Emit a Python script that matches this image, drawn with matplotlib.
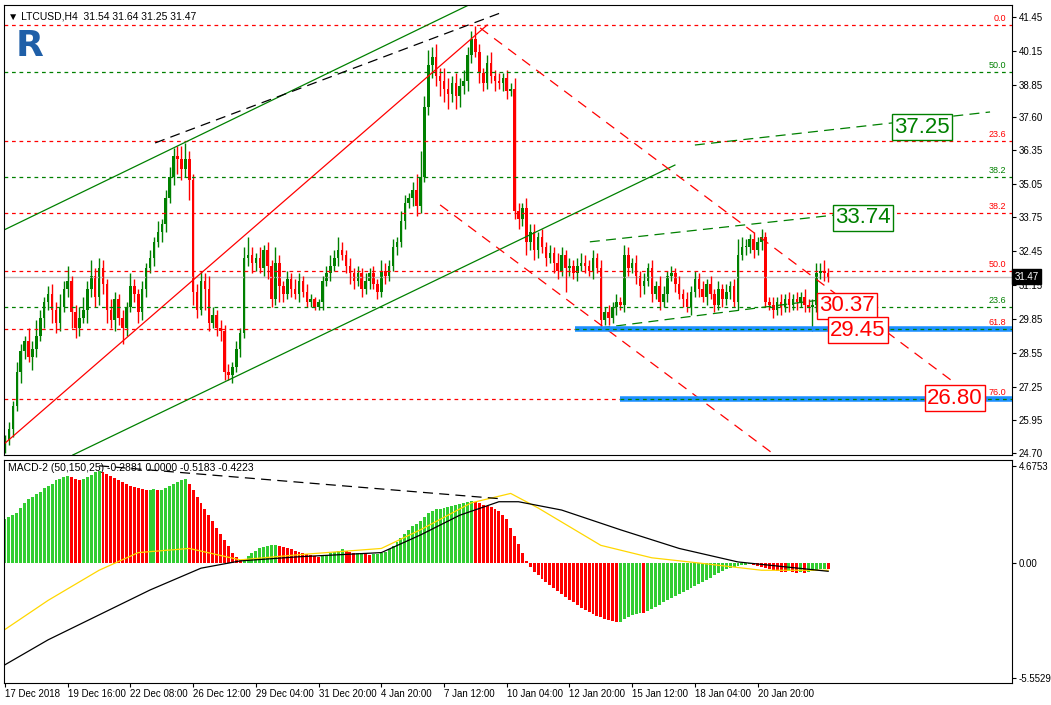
import numpy as np
import matplotlib.pyplot as plt

plt.rcParams['font.family'] = ['Liberation Sans Narrow', 'Liberation Sans', 'DejaVu Sans']

# --- price data (H4 bars) ---
closes = [25.2,25.6,26.5,27.8,28.6,29.0, 28.4,28.7,29.2,29.9,30.5,30.8, 30.2,29.7,30.3,31.0,31.3,30.1,
          29.5,29.9,30.2,31.0,31.5,30.7, 31.8,31.2,30.2,29.8,30.6,29.9, 29.5,30.3,31.1,30.8,30.1,31.0,
          31.8,32.2,32.8,33.2,33.5,34.5, 35.3,36.1,36.0,35.6,36.0,35.2, 30.9,30.2,31.3,31.0,29.7,30.0,
          29.5,29.4,27.8,27.7,28.0,28.7, 29.3,32.2,32.3,32.0,32.2,31.8, 32.5,31.9,30.6,32.0,31.1,30.8,
          31.4,31.0,30.8,31.3,30.9,30.5, 30.6,30.3,30.5,
          31.3,31.6,31.9,32.2,32.5,32.3, 31.9,31.6,31.3,31.6,31.0,31.3, 31.6,31.2,30.9,31.7,31.5,31.9,
          32.6,32.8,33.6,34.3,34.5,34.8, 34.2,35.3,38.0,39.6,39.9,39.2, 39.0,38.7,38.5,38.9,38.4,38.8,
          39.0,40.0,40.6,40.1,39.3,38.9, 39.7,39.2,39.0,38.9,39.1,38.6, 38.7,34.0,33.7,34.1,32.8,33.2,
          32.5,33.0,32.6,32.2,32.4,32.0, 31.7,32.3,31.8,31.9,31.6,31.9, 32.0,31.9,31.7,32.2,31.8,29.8,
          30.1,29.9,30.3,30.5,30.4,32.3, 31.8,32.0,31.5,31.1,31.3,31.8, 30.8,31.1,30.5,30.8,31.5,31.6,
          31.2,30.8,30.6,30.3,30.9,31.4, 31.0,30.7,31.2,30.8,30.4,31.0, 30.6,30.9,31.1,30.5,32.3,32.6,
          32.6,32.9,32.5,32.8,33.0, 30.5,
          30.4,30.2,30.5,30.3,30.6,30.4,30.6,30.5,30.7,30.4,30.3, 30.4, 31.6,31.7,31.6,31.47]
first_open = 25.0
upper_wick = [0.2,0.3,0.2,0.4,0.3,0.2, 0.5,0.3,0.6,0.3,0.2,0.3, 0.4,0.3,0.5,0.3,0.6,0.2,
              0.3,0.4,0.5,0.3,0.6,0.3, 0.4,0.3,0.2,0.4,0.3,0.2, 0.3,0.2,0.5,0.3,0.2,0.3,
              0.2,0.3,0.2,0.4,0.2,0.3, 0.4,0.3,0.4,0.5,0.6,0.3, 0.2,0.3,0.4,0.3,0.5,0.3,
              0.2,0.3,0.2,0.3,0.2,0.3, 0.2,0.4,0.7,0.3,0.2,0.4, 0.2,0.3,0.2,0.6,0.3,0.2,
              0.3,0.2,0.4,0.3,0.2,0.3, 0.2,0.1,0.1,
              0.2,0.3,0.4,0.3,0.5,0.3, 0.2,0.3,0.2,0.3,0.2,0.3, 0.2,0.3,0.2,0.4,0.3,0.2,
              0.3,0.2,0.4,0.3,0.2,0.3, 0.6,1.0,0.4,0.6,0.4,0.5, 0.3,0.5,0.4,0.3,0.4,0.3,
              0.4,0.3,0.3,0.5,0.3,0.2, 0.3,0.4,0.2,0.3,0.2,0.3, 0.2,0.4,0.3,0.2,0.4,0.3,
              0.3,0.2,0.3,0.2,0.3,0.2, 0.4,0.3,0.2,0.3,0.2,0.3, 0.4,0.3,0.2,0.3,0.2,0.3,
              0.2,0.3,0.2,0.3,0.2,0.4, 0.3,0.2,0.3,0.2,0.3,0.2, 0.3,0.2,0.4,0.3,0.2,0.3,
              0.2,0.3,0.2,0.3,0.2,0.3, 0.2,0.3,0.2,0.3,0.2,0.3, 0.2,0.3,0.2,0.3,0.6,0.4,
              0.3,0.2,0.3,0.2,0.3, 0.2,
              0.2,0.3,0.2,0.3,0.2,0.3,0.2,0.3,0.2,0.3,0.2, 0.2, 0.4,0.3,0.4,0.2]
lower_wick = [0.3,0.2,0.3,0.2,0.4,0.3, 0.2,0.5,0.3,0.2,0.4,0.3, 0.5,0.4,0.3,0.2,0.3,0.6,
              0.4,0.3,0.2,0.5,0.3,0.4, 0.3,0.4,0.5,0.3,0.4,0.3, 0.6,0.3,0.2,0.3,0.4,0.3,
              0.3,0.2,0.3,0.2,0.4,0.3, 0.2,0.3,0.6,0.4,0.3,0.8, 0.5,0.3,0.2,0.8,0.3,0.2,
              0.3,0.4,0.3,0.2,0.3,0.2, 0.3,0.2,0.3,0.4,0.3,0.2, 0.3,0.5,0.3,0.2,0.6,0.3,
              0.2,0.3,0.2,0.3,0.2,0.2, 0.2,0.1,0.1,
              0.3,0.2,0.3,0.2,0.3,0.2, 0.3,0.4,0.3,0.2,0.3,0.2, 0.3,0.2,0.3,0.2,0.3,0.2,
              0.2,0.3,0.2,0.3,0.2,0.3, 0.4,0.3,0.2,0.3,0.5,0.4, 0.6,0.5,0.6,0.3,0.5,0.4,
              0.3,0.4,0.3,0.2,0.4,0.3, 0.2,0.3,0.4,0.2,0.3,0.3, 0.2,0.3,0.4,0.3,0.5,0.3,
              0.4,0.3,0.2,0.3,0.2,0.4, 0.3,0.2,0.9,0.3,0.2,0.3, 0.2,0.3,0.2,0.3,0.2,0.3,
              0.2,0.3,0.2,0.3,0.2,0.3, 0.3,0.2,0.3,0.4,0.3,0.2, 0.3,0.2,0.3,0.2,0.3,0.2,
              0.3,0.2,0.3,0.2,0.3,0.2, 0.3,0.2,0.3,0.2,0.3,0.2, 0.3,0.2,0.3,0.2,0.3,0.2,
              0.3,0.2,0.3,0.2,0.3, 0.2,
              0.2,0.3,0.2,0.3,0.2,0.3,0.2,0.3,0.2,0.3,0.2, 0.9, 0.3,0.2,0.3,0.2]

# --- MACD-2 (50,150,25) ---
hist = [2.1,2.2,2.3, 2.4,2.65,2.9,3.1,3.2,3.3,3.4,3.6,3.7,3.8,4.0,4.05, 4.15,4.2, 4.15,4.05,4.0,
        4.05,4.15,4.25,4.4,4.45, 4.4,4.3,4.2,4.1,4.0,3.9,3.8, 3.7,3.65,3.6,3.55,3.5, 3.5,3.55,3.5,3.5,
        3.6,3.7,3.8,3.9,4.0,4.05,
        3.8,3.5,3.2,2.9,2.6,2.3,2.0,1.7,1.4,1.1,0.8,0.5,0.3,0.15,
        0.2,0.35,0.5,0.6,0.7,0.75,0.8,0.85,0.85,0.8,0.75,0.7,0.65,
        0.6,0.55,0.5,0.45,0.4,0.35,0.3,
        0.35,0.4,0.5,0.55,0.6,0.65, 0.6,0.55,0.5, 0.5,0.5, 0.45,0.4, 0.42,0.45,0.48, 0.55,0.65,
        0.8,1.0,1.2,1.4,1.6,1.8,1.9,2.0,2.2,2.4,2.5,2.6,2.6,2.65,2.7,2.75,2.8,2.85,2.9,
        2.95,3.0,
        2.95,2.9,2.8,2.75,2.7,2.6,2.5,2.3,2.1,1.7,1.3,0.9,0.5,0.1,
        -0.2,-0.45,-0.6,-0.75,-0.9,-1.05,-1.2,-1.35,-1.5,-1.65,-1.8,-1.9,-2.0,-2.15,-2.25,-2.35,
        -2.45,-2.55,-2.6,-2.7,-2.75,-2.8,
        -2.85,-2.85,
        -2.7,-2.6,-2.5,-2.45,-2.4,-2.42,-2.3,-2.2,-2.1,-2.0,-1.9,-1.8,-1.7,-1.6,-1.5,-1.4,-1.3,
        -1.2,-1.1,-1.0,-0.9,-0.8,-0.7,-0.6,-0.5,-0.4,-0.3,-0.25,-0.2,-0.15,-0.1,-0.08,-0.05,
        -0.1,-0.15,-0.2,-0.25,-0.3,-0.35,-0.4,-0.42,-0.45,-0.4,-0.45,-0.5,-0.45,-0.5,-0.45,
        -0.4,-0.35,-0.3,-0.28,-0.29]
black_bars = [0, 11, 24, 37, 50, 60, 75, 96, 106, 116, 126, 131, 142, 157, 172, 187, 210]
black_vals = [-4.9, -3.7, -2.5, -1.3, -0.25, 0.1, 0.3, 0.5, 1.35, 2.3, 2.95, 2.95, 2.55, 1.6, 0.7, 0.05, -0.4]
yellow_bars = [0, 11, 24, 34, 47, 60, 75, 96, 106, 119, 129, 136, 152, 165, 177, 193, 210]
yellow_vals = [-3.2, -1.8, -0.35, 0.5, 0.7, 0.15, 0.4, 0.7, 1.6, 2.9, 3.35, 2.65, 0.85, 0.25, 0.0, -0.35, -0.35]

# --- annotations (bar index, price) ---
fib_levels = [41.14, 39.34, 36.69, 35.30, 33.92, 31.69, 30.31, 29.47, 26.77]
fib_labels = ['0.0', '50.0', '23.6', '38.2', '38.2', '50.0', '23.6', '61.8', '76.0']
fib_colors = ['red', 'green', 'red', 'green', 'red', 'red', 'green', 'red', 'red']
target_text = ['37.25', '33.74', '30.37', '29.45', '26.80']
target_pos = [(233.9, 37.22), (218.9, 33.73), (214.8, 30.35), (217.6, 29.42), (242.3, 26.81)]
target_colors = ['green', 'green', 'red', 'red', 'red']
trend_lines = [  # (x0, y0, x1, y1, color, style)
    (-1.3, 33.19, 119.4, 41.99, 'green', '-'),
    (17.3, 24.62, 170.9, 35.76, 'green', '-'),
    (38.3, 36.61, 127.0, 41.64, 'black', (0, (8, 5))),
    (-0.5, 25.01, 123.0, 41.14, 'red', '-'),
    (121.2, 41.03, 242.3, 27.39, 'red', (0, (8, 6))),
    (111.0, 34.23, 196.4, 24.62, 'red', (0, (8, 6))),
    (176.0, 36.53, 251.3, 37.80, 'green', (0, (8, 5))),
    (149.2, 32.81, 211.7, 33.84, 'green', (0, (8, 5))),
    (151.8, 29.50, 218.1, 30.77, 'green', (0, (8, 5))),
]
blue_lines = [(145.4, 29.47), (156.9, 26.77)]
price_ticks = [41.45, 40.15, 38.85, 37.60, 36.35, 35.05, 33.75, 32.45, 31.15, 29.85, 28.55, 27.25, 25.95, 24.70]
date_labels = ['17 Dec 2018', '19 Dec 16:00', '22 Dec 08:00', '26 Dec 12:00', '29 Dec 04:00', '31 Dec 20:00',
               '4 Jan 20:00', '7 Jan 12:00', '10 Jan 04:00', '12 Jan 20:00', '15 Jan 12:00', '18 Jan 04:00',
               '20 Jan 20:00']
last_price = 31.47

n = len(closes)
x = np.arange(n)
opens = [first_open] + closes[:-1]
GREEN = '#008000'
XMAX = 256.9

fig = plt.figure(figsize=(10.51, 7.05), dpi=100)
ax = fig.add_axes([4/1051, 1-455/705, 1008/1051, 450/705])
ax2 = fig.add_axes([4/1051, 1-683/705, 1008/1051, 223/705])

# candles
for i in range(n):
    o, c = opens[i], closes[i]
    col = GREEN if c >= o else 'red'
    top, bot = max(o, c), min(o, c)
    ax.vlines(i, bot - lower_wick[i], top + upper_wick[i], color=col, lw=1)
    ax.bar(i, max(top - bot, 0.04), bottom=bot, width=0.65, color=col, lw=0)

for lvl, lab, col in zip(fib_levels, fib_labels, fib_colors):
    ax.axhline(lvl, color=col, ls=(0, (3, 3)), lw=0.9)
    ax.text(255.5, lvl + 0.08, lab, color=col, fontsize=6.5, ha='right', va='bottom')

for x0, y0, x1, y1, col, st in trend_lines:
    ax.plot([x0, x1], [y0, y1], color=col, ls=st, lw=0.9)

for x0, lvl in blue_lines:
    ax.plot([x0, XMAX], [lvl, lvl], color='#1E90FF', lw=4, solid_capstyle='butt', zorder=3)
    ax.plot([x0, XMAX], [lvl, lvl], color=GREEN, ls=(0, (3, 3)), lw=0.9, zorder=4)

ax.axhline(last_price, color='#c0c0c0', lw=1, zorder=1)

for txt, (bx, by), col in zip(target_text, target_pos, target_colors):
    ax.text(bx, by, txt, color=col, fontsize=16, ha='center', va='center', zorder=6,
            family=['Liberation Sans', 'DejaVu Sans'],
            bbox=dict(boxstyle='square,pad=0.1', fc='white', ec=col, lw=1))

ax.set_xlim(-0.26, XMAX)
ax.set_ylim(24.62, 41.91)
ax.yaxis.tick_right()
ax.set_yticks(price_ticks)
ax.set_yticklabels([f'{v:.2f}' for v in price_ticks], fontsize=7)
ax.set_xticks([])
ax.tick_params(axis='y', length=3, pad=2)
ax.annotate(f'{last_price:.2f}', xy=(1.0, last_price), xycoords=('axes fraction', 'data'),
            xytext=(2, 0), textcoords='offset points', fontsize=7, color='white', va='center',
            bbox=dict(boxstyle='square,pad=0.25', fc='black', ec='black'), annotation_clip=False)
ax.text(0.004, 0.985, '\u25bc LTCUSD,H4  31.54 31.64 31.25 31.47', transform=ax.transAxes,
        fontsize=7.5, va='top', ha='left', family=['Liberation Sans', 'DejaVu Sans'])
ax.text(0.012, 0.91, 'R', transform=ax.transAxes, fontsize=26, fontweight='bold',
        color='#1f5fa8', va='center', ha='left', family=['DejaVu Sans'])

# MACD panel
hcols = ['#32CD32' if (i == 0 or hist[i] >= hist[i - 1]) else '#FF0000' for i in range(n)]
ax2.bar(x, hist, width=0.75, color=hcols, lw=0)
ax2.plot(yellow_bars, yellow_vals, color='#FFD700', lw=0.9)
ax2.plot(black_bars, black_vals, color='black', lw=0.9)
ax2.plot([24, 126], [4.68, 3.1], color='black', ls=(0, (8, 5)), lw=0.9)
ax2.set_xlim(-0.26, XMAX)
ax2.set_ylim(-5.78, 4.96)
ax2.yaxis.tick_right()
ax2.set_yticks([4.6753, 0.0, -5.5529])
ax2.set_yticklabels(['4.6753', '0.00', '-5.5529'], fontsize=7)
ax2.tick_params(axis='y', length=3, pad=2)
ax2.set_xticks(np.arange(len(date_labels)) * 16)
ax2.set_xticklabels(date_labels, fontsize=7, ha='left')
ax2.tick_params(axis='x', length=3, pad=1)
ax2.text(0.004, 0.985, 'MACD-2 (50,150,25) -0.2881 0.0000 -0.5183 -0.4223', transform=ax2.transAxes,
         fontsize=7.5, va='top', ha='left', family=['Liberation Sans', 'DejaVu Sans'])

plt.savefig('out.png', dpi=100)
